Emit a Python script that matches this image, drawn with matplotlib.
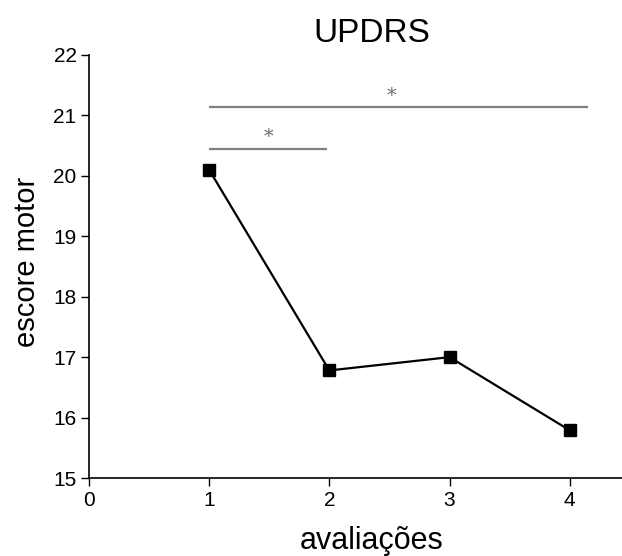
import matplotlib
matplotlib.use("Agg")
import matplotlib.pyplot as plt

# dados
avaliacoes = [1, 2, 3, 4]
escore = [20.1, 16.78, 17.0, 15.79]

# barras de significância: (x inicio, x fim, altura, x do asterisco)
sig_x0 = [1, 1]
sig_x1 = [1.98, 4.15]
sig_y = [20.45, 21.14]
sig_star_x = [1.49, 2.52]

plt.rcParams['font.family'] = ['Liberation Sans', 'DejaVu Sans']

fig = plt.figure(figsize=(6.22, 5.56), dpi=100)
ax = fig.add_axes([89 / 622, 1 - 478 / 556, 566 / 622, 423 / 556])

ax.plot(avaliacoes, escore, color='black', lw=1.6, marker='s', markersize=8,
        markerfacecolor='black', markeredgecolor='black')

for x0, x1, y, sx in zip(sig_x0, sig_x1, sig_y, sig_star_x):
    ax.plot([x0, x1], [y, y], color='#808080', lw=1.6, solid_capstyle='butt')
    ax.text(sx, y + 0.04, '*', ha='center', va='bottom', fontsize=14,
            color='#707070', family='DejaVu Serif')

ax.set_xlim(0, 4.71)
ax.set_ylim(15, 22)
ax.set_xticks([0, 1, 2, 3, 4])
ax.set_yticks(range(15, 23))
ax.tick_params(direction='out', length=6, width=1, labelsize=15, pad=3)

for s in ['top', 'right']:
    ax.spines[s].set_visible(False)
for s in ['left', 'bottom']:
    ax.spines[s].set_linewidth(1.2)

ax.set_title('UPDRS', fontsize=24, pad=9)
ax.set_xlabel('avaliações', fontsize=22, labelpad=12)
ax.set_ylabel('escore motor', fontsize=21)
ax.yaxis.set_label_coords(-0.084, 0.51)

fig.savefig('out.png', dpi=100)
